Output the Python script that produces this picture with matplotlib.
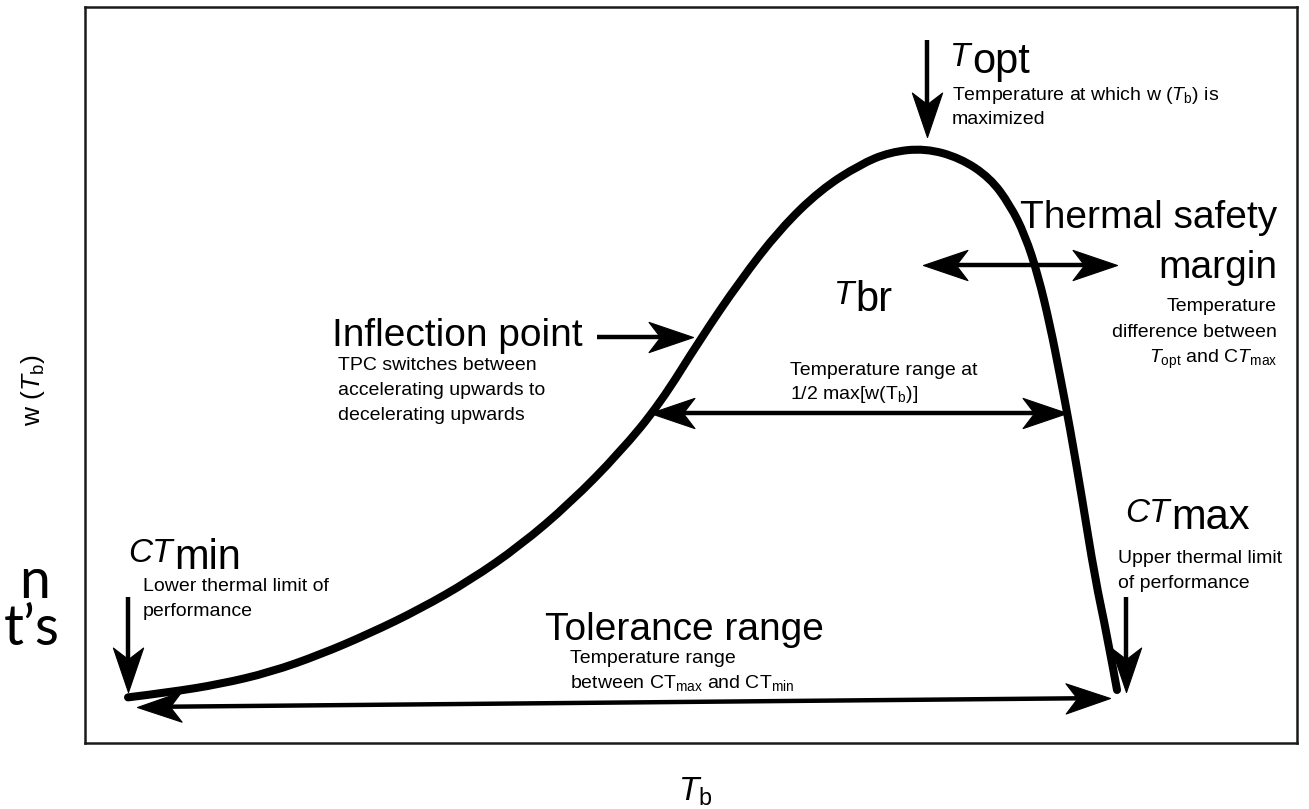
import math
import matplotlib
matplotlib.use('Agg')
import matplotlib.pyplot as plt
from matplotlib.path import Path
from matplotlib.patches import PathPatch
from matplotlib.markers import MarkerStyle
from matplotlib.transforms import Affine2D

plt.rcParams['font.family'] = ['Liberation Sans', 'DejaVu Sans']
plt.rcParams['mathtext.fontset'] = 'custom'
plt.rcParams['mathtext.rm'] = 'Liberation Sans'
plt.rcParams['mathtext.it'] = 'Liberation Sans:italic'
plt.rcParams['mathtext.bf'] = 'Liberation Sans:bold'

# Thermal performance curve (arbitrary units)
temperature = [3.55, 7.01, 11.14, 15.26, 19.39, 23.51, 27.64, 31.77, 35.89, 40.02,
               44.14, 47.44, 50.74, 54.04, 57.34, 60.64, 63.94, 66.42, 69.31,
               72.19, 74.67, 76.32, 77.56, 78.63, 79.62, 80.45, 81.27, 82.26, 83.33,
               84.32, 85.15]
performance = [0.062, 0.069, 0.080, 0.096, 0.120, 0.149, 0.182, 0.221, 0.268, 0.326,
               0.395, 0.461, 0.548, 0.628, 0.698, 0.751, 0.786, 0.803, 0.808,
               0.795, 0.768, 0.731, 0.690, 0.636, 0.568, 0.499, 0.428, 0.333, 0.224,
               0.147, 0.072]

# figure / box layout (reference pixels)
FW, FH = 1309, 809
BL, BR, BT, BB = 85, 1297, 7, 743

fig = plt.figure(figsize=(FW / 100, FH / 100), dpi=100)
ax = fig.add_axes([BL / FW, (FH - BB) / FH, (BR - BL) / FW, (BB - BT) / FH])
ax.set_xlim(0, 100)
ax.set_ylim(0, 1)
ax.set_xticks([])
ax.set_yticks([])
for s in ax.spines.values():
    s.set_linewidth(1.8)
    s.set_color('#1a1a1a')


def P(x, y):
    """reference pixel -> data coordinates (layout helper for annotations)"""
    return ((x - BL) / (BR - BL) * 100, (BB - y) / (BB - BT))


# smooth curve through the read points (quadratic Bezier through midpoints)
pts = list(zip(temperature, performance))
verts = [pts[0]]
codes = [Path.MOVETO]
for i in range(1, len(pts) - 1):
    if i < len(pts) - 2:
        nxt = ((pts[i][0] + pts[i + 1][0]) / 2, (pts[i][1] + pts[i + 1][1]) / 2)
    else:
        nxt = pts[i + 1]
    verts += [pts[i], nxt]
    codes += [Path.CURVE3, Path.CURVE3]
ax.add_patch(PathPatch(Path(verts, codes), facecolor='none', edgecolor='black',
                       lw=5.8, capstyle='round', joinstyle='round', zorder=3))

# stealth-style arrow head marker (tip at origin, pointing +x)
HEAD = Path([(0, 0), (-1, 0.34), (-0.74, 0), (-1, -0.34), (0, 0)],
            [Path.MOVETO, Path.LINETO, Path.LINETO, Path.LINETO, Path.CLOSEPOLY])
HEAD_MS = 64          # marker size (pt); head length = HEAD_MS/2 pt
HEAD_PX = HEAD_MS / 2 * 100 / 72


def head(x, y, ang):
    m = MarkerStyle(HEAD, transform=Affine2D().rotate_deg(ang))
    ax.plot(*[[v] for v in P(x, y)], marker=m, ms=HEAD_MS, color='black',
            mec='black', mew=0.8, zorder=5, clip_on=False)


def arrow(x0, y0, x1, y1, double=False):
    dx, dy = x1 - x0, y1 - y0
    L = math.hypot(dx, dy)
    ux, uy = dx / L, dy / L
    ang = math.degrees(math.atan2(-dy, dx))
    cut = HEAD_PX * 0.6
    sx0, sy0 = (x0 + ux * cut, y0 + uy * cut) if double else (x0, y0)
    sx1, sy1 = x1 - ux * cut, y1 - uy * cut
    a, b = P(sx0, sy0), P(sx1, sy1)
    ax.plot([a[0], b[0]], [a[1], b[1]], color='black', lw=3.2,
            solid_capstyle='butt', zorder=4)
    head(x1, y1, ang)
    if double:
        head(x0, y0, ang + 180)


def big_label(x, y, italic, rest, isize=24, raise_px=6):
    t = ax.text(*P(x, y - raise_px), italic, fontsize=isize, style='italic',
                va='baseline', ha='left')
    ax.annotate(rest, xy=(1, 0), xycoords=t, fontsize=30, va='baseline',
                ha='left', xytext=(1, 0), textcoords='offset points')


def small(x, y, s, ha='left'):
    ax.text(*P(x, y), s, fontsize=14, ha=ha, va='baseline')


def big(x, y, s, ha='left'):
    ax.text(*P(x, y), s, fontsize=28, ha=ha, va='baseline')


# T_opt
big_label(950, 72, 'T', 'opt')
small(952, 100, r'Temperature at which w ($T_{\mathrm{b}}$) is')
small(952, 124, 'maximized')
arrow(927, 40, 927, 137)

# Thermal safety margin
big(1277, 228, 'Thermal safety', ha='right')
big(1277, 278, 'margin', ha='right')
small(1277, 311, 'Temperature', ha='right')
small(1277, 337, 'difference between', ha='right')
small(1277, 363, r'$T_{\mathrm{opt}}$ and C$T_{\mathrm{max}}$', ha='right')
arrow(923, 265, 1117, 265, double=True)

# Inflection point
big(583, 346, 'Inflection point', ha='right')
small(338, 370, 'TPC switches between')
small(338, 395, 'accelerating upwards to')
small(338, 420, 'decelerating upwards')
arrow(597, 337, 693, 337)

# T_br
big_label(834, 310, 'T', 'br')
small(790, 375, 'Temperature range at')
small(790, 399, r'1/2 max[w(T$_{\mathrm{b}}$)]')
arrow(650, 413, 1067, 413, double=True)

# CT_min
big_label(128, 568, 'CT', 'min')
small(143, 591, 'Lower thermal limit of')
small(143, 616, 'performance')
arrow(128, 597, 128, 692)

# CT_max
big_label(1125, 528, 'CT', 'max')
small(1118, 563, 'Upper thermal limit')
small(1118, 588, 'of performance')
arrow(1126, 597, 1126, 692)

# Tolerance range
big(545, 640, 'Tolerance range')
small(570, 663, 'Temperature range')
small(570, 688, r'between CT$_{\mathrm{max}}$ and CT$_{\mathrm{min}}$')
arrow(137, 707, 1110, 698, double=True)

# axis labels
fig.text(695 / FW, 1 - 792 / FH, r'$T_{\mathrm{b}}$', fontsize=24,
         ha='center', va='center')
fig.text(33 / FW, 1 - 390 / FH, r'w ($T_{\mathrm{b}}$)', fontsize=19,
         ha='center', va='center', rotation=90)

# stray slide text at the left edge
fig.text(50 / FW, 1 - 598 / FH, 'n', fontsize=40, family=['Lato', 'DejaVu Sans'],
         ha='right', va='baseline')
fig.text(4 / FW, 1 - 645 / FH, 't\u2019s', fontsize=40, family=['Lato', 'DejaVu Sans'],
         ha='left', va='baseline')

fig.savefig('out.png', dpi=100)
